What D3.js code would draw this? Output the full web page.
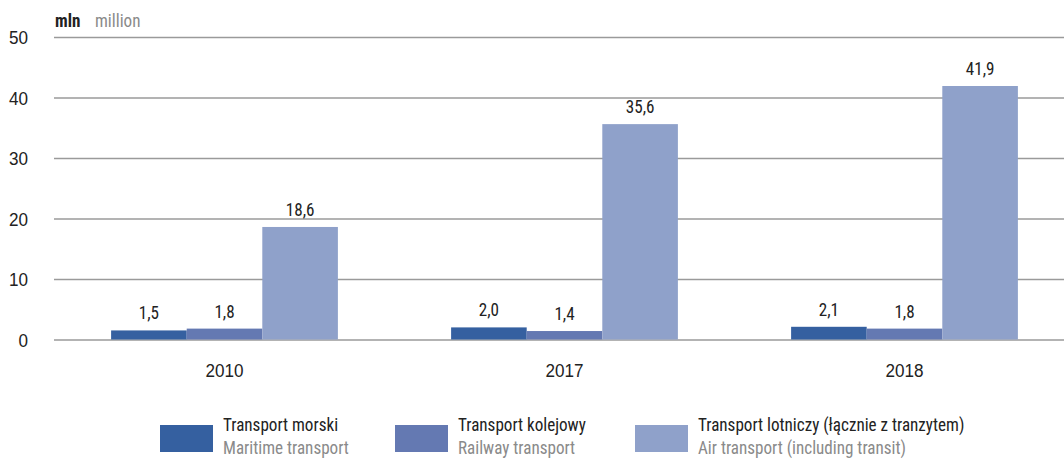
<!DOCTYPE html>
<html><head><meta charset="utf-8">
<script src="https://cdn.jsdelivr.net/npm/d3@7"></script>
<style>
body{margin:0;background:#fff;}
svg{display:block;font-family:"Roboto Condensed","Roboto",sans-serif;}
</style></head><body>
<svg id="c" width="1064" height="458"></svg>
<script>
const years = ["2010","2017","2018"];
const seriesPl = ["Transport morski","Transport kolejowy","Transport lotniczy (łącznie z tranzytem)"];
const seriesEn = ["Maritime transport","Railway transport","Air transport (including transit)"];
const maritime = [1.5, 2.0, 2.1];
const railway = [1.8, 1.4, 1.8];
const air = [18.6, 35.6, 41.9];
const yTicks = [0,10,20,30,40,50];
const colors = ["#3560a0","#6479b2","#8fa1ca"];

const FS = 19, SX = 0.9;
const svg = d3.select("#c");
const values = [maritime, railway, air];

const x0 = d3.scaleBand().domain(years).range([54.5,1074.5]).paddingInner(0.333).paddingOuter(0.1665);
const x1 = d3.scaleBand().domain([0,1,2]).range([0,x0.bandwidth()]);
const y = d3.scaleLinear().domain([0,50]).range([339.5,37]);

// helper: condensed text placed at x,y
function ctext(parent, x, yy, str, opts={}) {
  const g = parent.append("g").attr("transform", `translate(${x},${yy}) scale(${SX},1)`);
  const t = g.append("text").attr("font-size", opts.size||FS).attr("fill", opts.fill||"#222")
    .attr("text-anchor", opts.anchor||"start").text(str);
  if (opts.weight) t.attr("font-weight", opts.weight);
  if (opts.dy) t.attr("dy", opts.dy);
  return t;
}

// gridlines + y tick labels
const yAxis = d3.axisLeft(y).tickValues(yTicks).tickSize(-1010).tickFormat(d=>d);
const ga = svg.append("g").attr("transform","translate(54,0)").call(yAxis);
ga.select(".domain").remove();
ga.selectAll(".tick line").attr("stroke","#9a9a9a").attr("stroke-width",1.3);
ga.selectAll(".tick text").attr("font-size",FS).attr("fill","#222").attr("font-family","inherit")
  .attr("text-anchor","end").attr("x",-26/SX).attr("dy","0.36em").attr("transform",`scale(${SX},1)`);

// bars
const groups = svg.append("g").selectAll("g").data(years).join("g")
  .attr("transform", d=>`translate(${x0(d)},0)`);
groups.selectAll("rect").data((d,i)=>values.map((s,k)=>({k, v:s[i]}))).join("rect")
  .attr("x", d=>x1(d.k)).attr("width", x1.bandwidth())
  .attr("y", d=>y(d.v)).attr("height", d=>y(0)-y(d.v))
  .attr("fill", d=>colors[d.k]);
groups.each(function(yr,i){
  const g = d3.select(this);
  values.forEach((s,k)=>{
    ctext(g, x1(k)+x1.bandwidth()/2, y(s[i])-11, d3.format(".1f")(s[i]).replace(".",","), {anchor:"middle"});
  });
});

// x axis labels
const xAxis = d3.axisBottom(x0).tickSize(0).tickPadding(24);
const gx = svg.append("g").attr("transform",`translate(0,${y(0)})`).call(xAxis);
gx.select(".domain").remove();
gx.selectAll("text").attr("font-size",FS).attr("fill","#222").attr("font-family","inherit").attr("transform",`scale(${SX},1)`);

// unit label
ctext(svg, 55, 27, "mln", {weight:"bold"});
ctext(svg, 95, 27, "million", {fill:"#8a8a8a"});

// legend
const legX = [160,395,635];
seriesPl.forEach((name,i)=>{
  svg.append("rect").attr("x",legX[i]).attr("y",425).attr("width",53).attr("height",27).attr("fill",colors[i]);
  ctext(svg, legX[i]+63, 431, name);
  ctext(svg, legX[i]+63, 454, seriesEn[i], {fill:"#8a8a8a"});
});
</script>
</body></html>
